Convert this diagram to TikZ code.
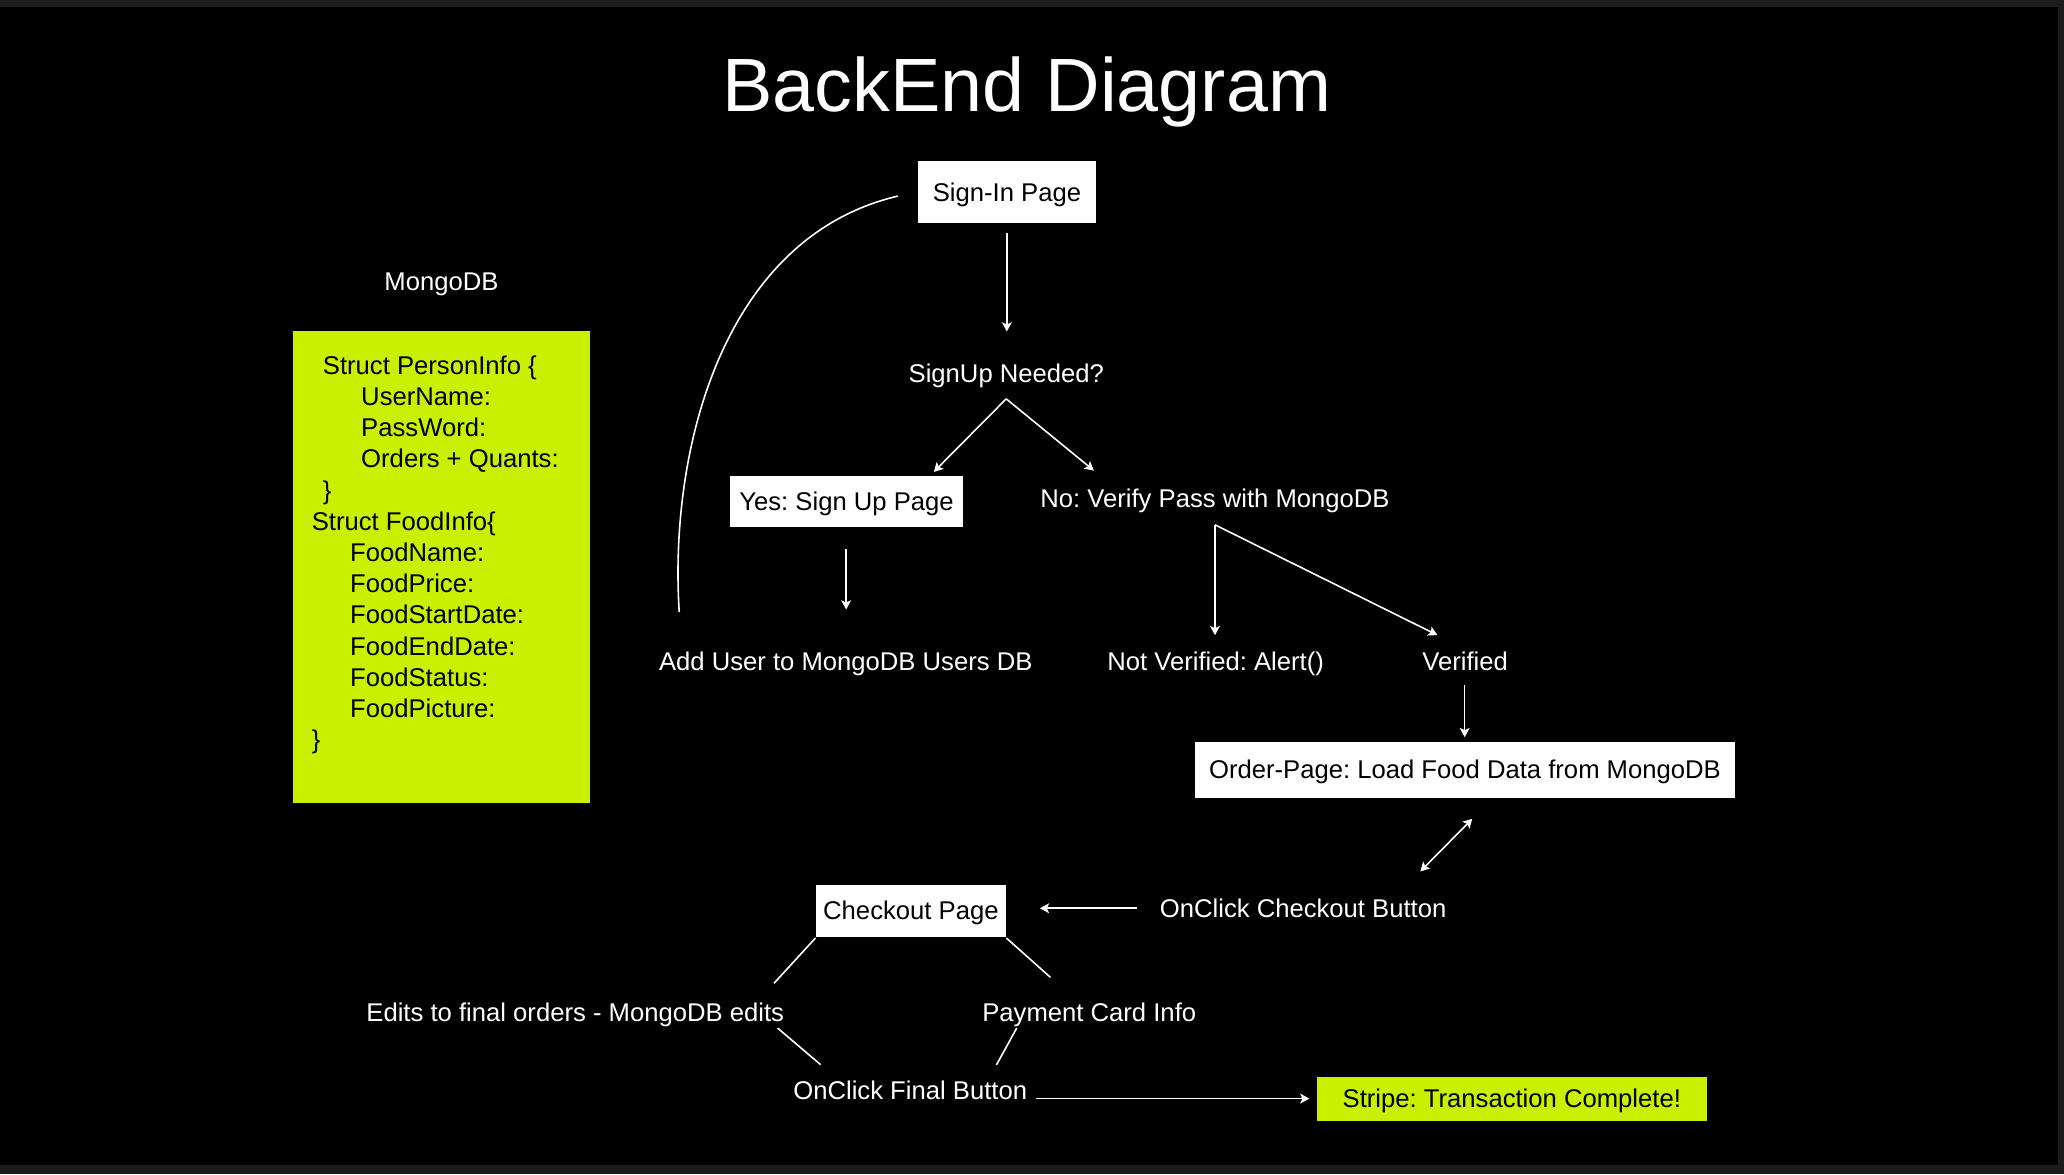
\documentclass[tikz,border=0pt]{standalone}
\usepackage{fontspec}
\setmainfont{Liberation Sans}
\usetikzlibrary{arrows.meta}
\definecolor{lime}{RGB}{200,240,0}
\definecolor{edgegray}{RGB}{28,28,28}
\frenchspacing
\begin{document}
\begin{tikzpicture}[x=0.013163cm,y=-0.013163cm,
  bodyfont/.style={font=\fontsize{7.3}{8.8}\selectfont\frenchspacing},
  txt/.style={bodyfont,text=white,inner sep=0pt,text height=5.1pt,text depth=0pt},
  wbox/.style={txt,fill=white,text=black},
  lbox/.style={txt,fill=lime,text=black},
  code/.style={bodyfont,inner sep=0pt,anchor=base west,text=black},
  conn/.style={draw=white,line width=0.45pt},
  tip/.tip={Stealth[length=2.6pt,width=2.8pt,inset=0.6pt]},
  arr/.style={conn,-tip},
  darr/.style={conn,tip-tip}
]
% background and frame strips
\fill[black] (0,0) rectangle (1568,892);
\fill[edgegray] (0,0) rectangle (1568,5.3);
\fill[edgegray] (1563.5,0) rectangle (1568,892);
\fill[edgegray] (0,885) rectangle (1568,892);
\useasboundingbox (0,0) rectangle (1568,892);

% title
\node[txt,font=\fontsize{21.5}{26}\selectfont,text height=15.05pt] (title) at (780,64.6) {BackEnd Diagram};

% MongoDB structs
\node[txt] (mongolabel) at (335.4,213.6) {MongoDB};
\node[fill=lime,inner sep=0pt,minimum width=84.4pt,minimum height=134.3pt] (mongobox) at (335.6,430.75) {};
\node[code] (s1) at (244.8,284.4) {Struct PersonInfo \{};
\node[code] (s2) at (273.9,308.1) {UserName:};
\node[code] (s3) at (273.9,331.8) {PassWord:};
\node[code] (s4) at (273.9,355.5) {Orders + Quants:};
\node[code] (s5) at (244.8,379.2) {\}};
\node[code] (s6) at (236.4,402.9) {Struct FoodInfo\{};
\node[code] (s7) at (265.5,426.6) {FoodName:};
\node[code] (s8) at (265.5,450.3) {FoodPrice:};
\node[code] (s9) at (265.5,474.0) {FoodStartDate:};
\node[code] (s10) at (265.5,497.7) {FoodEndDate:};
\node[code] (s11) at (265.5,521.4) {FoodStatus:};
\node[code] (s12) at (265.5,545.1) {FoodPicture:};
\node[code] (s13) at (236.4,568.8) {\}};

% flow nodes
\node[wbox,minimum width=50.9pt,minimum height=17.6pt] (signin) at (765,146.1) {Sign-In Page};
\node[txt] (signup) at (764.5,283.5) {SignUp Needed?};
\node[wbox,minimum width=66.1pt,minimum height=14.7pt] (yes) at (643.1,380.9) {Yes: Sign Up Page};
\node[txt] (noverify) at (923,379) {No: Verify Pass with MongoDB};
\node[txt] (adduser) at (642.5,502.4) {Add User to MongoDB Users DB};
\node[txt] (notver) at (923.5,502.4) {Not Verified: Alert()};
\node[txt] (verified) at (1113,502.4) {Verified};
\node[wbox,minimum width=153.9pt,minimum height=16pt] (order) at (1112.9,584.7) {Order-Page: Load Food Data from MongoDB};
\node[txt] (checkbtn) at (990,690.5) {OnClick Checkout Button};
\node[wbox,minimum width=53.9pt,minimum height=15pt] (checkout) at (692,692) {Checkout Page};
\node[txt] (edits) at (437,769) {Edits to final orders - MongoDB edits};
\node[txt] (payment) at (827.5,769) {Payment Card Info};
\node[txt] (final) at (691.5,828.6) {OnClick Final Button};
\node[lbox,minimum width=110.9pt,minimum height=12.4pt] (stripe) at (1148.5,834.9) {Stripe: Transaction Complete!};

% connector end points
\coordinate (siOut) at (764.9,177);
\coordinate (suIn) at (764.9,251.8);
\coordinate (suFork) at (764.4,303);
\coordinate (yesIn) at (709.4,358.5);
\coordinate (noIn) at (831,357.5);
\coordinate (yesOut) at (642.8,416.8);
\coordinate (addIn) at (642.8,463);
\coordinate (addOut) at (516,465);
\coordinate (siBack) at (682,149);
\coordinate (noFork) at (923,398.7);
\coordinate (nvIn) at (923,482.5);
\coordinate (vIn) at (1092,482.5);
\coordinate (vOut) at (1112.7,520.7);
\coordinate (orderIn) at (1112.7,560);
\coordinate (orderEnd) at (1118.5,622);
\coordinate (btnEnd) at (1079,662);
\coordinate (btnOut) at (864,690);
\coordinate (coIn) at (790,690);
\coordinate (editsIn) at (588,747);
\coordinate (payIn) at (798,742.5);
\coordinate (editsOut) at (590.7,781);
\coordinate (finalL) at (623.4,808.8);
\coordinate (payOut) at (772.4,781);
\coordinate (finalR) at (757,809);
\coordinate (finalOut) at (787,834.6);
\coordinate (stripeIn) at (994.7,834.6);

% connectors
\draw[arr] (siOut) -- (suIn);
\draw[arr] (suFork) -- (yesIn);
\draw[arr] (suFork) -- (noIn);
\draw[arr] (yesOut) -- (addIn);
\draw[conn] (addOut) .. controls (508,340) and (550,180) .. (siBack);
\draw[arr] (noFork) -- (nvIn);
\draw[arr] (noFork) -- (vIn);
\draw[arr] (vOut) -- (orderIn);
\draw[darr] (orderEnd) -- (btnEnd);
\draw[arr] (btnOut) -- (coIn);
\draw[conn] (checkout.south west) -- (editsIn);
\draw[conn] (checkout.south east) -- (payIn);
\draw[conn] (editsOut) -- (finalL);
\draw[conn] (payOut) -- (finalR);
\draw[arr] (finalOut) -- (stripeIn);
\end{tikzpicture}
\end{document}
